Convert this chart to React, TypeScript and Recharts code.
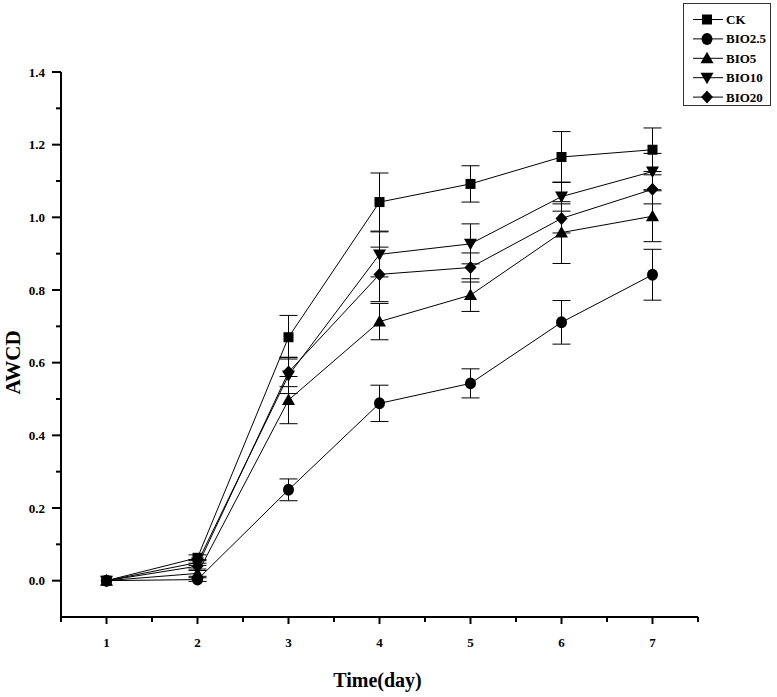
import React from "react";
import { LineChart, Line, XAxis, YAxis, ErrorBar } from "recharts";

// 时间 (day)
const days = [1, 2, 3, 4, 5, 6, 7];

// AWCD values
const ck = [0.0, 0.063, 0.67, 1.042, 1.092, 1.166, 1.186];
const bio25 = [0.0, 0.003, 0.25, 0.488, 0.543, 0.711, 0.842];
const bio5 = [0.0, 0.02, 0.497, 0.713, 0.786, 0.958, 1.003];
const bio10 = [0.0, 0.05, 0.565, 0.898, 0.927, 1.057, 1.126];
const bio20 = [0.0, 0.04, 0.574, 0.843, 0.862, 0.997, 1.077];

// error bars (±)
const ckErr = [0, 0.008, 0.06, 0.08, 0.05, 0.07, 0.06];
const bio25Err = [0, 0.005, 0.03, 0.05, 0.04, 0.06, 0.07];
const bio5Err = [0, 0.008, 0.065, 0.05, 0.045, 0.085, 0.07];
const bio10Err = [0, 0.008, 0.05, 0.062, 0.055, 0.04, 0.05];
const bio20Err = [0, 0.008, 0.04, 0.075, 0.04, 0.04, 0.04];

const seriesNames = ["CK", "BIO2.5", "BIO5", "BIO10", "BIO20"];
const seriesKeys = ["ck", "bio25", "bio5", "bio10", "bio20"];
const seriesShapes = ["square", "circle", "triangle", "down", "diamond"];

const xTicks = [0.5, 1, 1.5, 2, 2.5, 3, 3.5, 4, 4.5, 5, 5.5, 6, 6.5, 7, 7.5];
const yTicks = [0, 0.1, 0.2, 0.3, 0.4, 0.5, 0.6, 0.7, 0.8, 0.9, 1.0, 1.1, 1.2, 1.3, 1.4];

const data = days.map((d, i) => ({
  day: d,
  ck: ck[i],
  ckErr: ckErr[i],
  bio25: bio25[i],
  bio25Err: bio25Err[i],
  bio5: bio5[i],
  bio5Err: bio5Err[i],
  bio10: bio10[i],
  bio10Err: bio10Err[i],
  bio20: bio20[i],
  bio20Err: bio20Err[i],
}));

const FONT = '"Liberation Serif", "DejaVu Serif", serif';

function Marker({ shape, cx, cy }: { shape: string; cx: number; cy: number }) {
  if (cx == null || cy == null) return null;
  switch (shape) {
    case "square":
      return <rect x={cx - 5} y={cy - 5} width={10} height={10} fill="#000" />;
    case "circle":
      return <ellipse cx={cx} cy={cy} rx={5.5} ry={6} fill="#000" />;
    case "triangle":
      return <polygon points={`${cx},${cy - 6.5} ${cx + 6.5},${cy + 5} ${cx - 6.5},${cy + 5}`} fill="#000" />;
    case "down":
      return <polygon points={`${cx - 6.5},${cy - 5} ${cx + 6.5},${cy - 5} ${cx},${cy + 6.5}`} fill="#000" />;
    default:
      return <polygon points={`${cx},${cy - 6.5} ${cx + 6},${cy} ${cx},${cy + 6.5} ${cx - 6},${cy}`} fill="#000" />;
  }
}

const YTick = (props: any) => {
  const { x, y, payload } = props;
  const v = payload.value;
  const major = Math.round(v * 10) % 2 === 0;
  return (
    <g>
      <line x1={x} x2={x - (major ? 9 : 5)} y1={y} y2={y} stroke="#000" strokeWidth={2} />
      {major && (
        <text x={x - 16} y={y + 4.5} textAnchor="end" fontFamily={FONT} fontWeight="bold" fontSize={13} fill="#000">
          {v.toFixed(1)}
        </text>
      )}
    </g>
  );
};

const XTick = (props: any) => {
  const { x, y, payload } = props;
  const v = payload.value;
  const major = Number.isInteger(v);
  return (
    <g>
      <line x1={x} x2={x} y1={y} y2={y + (major ? 7 : 5)} stroke="#000" strokeWidth={2} />
      {major && (
        <text x={x} y={y + 30} textAnchor="middle" fontFamily={FONT} fontWeight="bold" fontSize={13} fill="#000">
          {v}
        </text>
      )}
    </g>
  );
};

function LegendBox() {
  return (
    <div
      style={{
        position: "absolute",
        left: 683,
        top: 3,
        width: 88,
        height: 103,
        border: "1px solid #333",
        boxSizing: "border-box",
        background: "#fff",
      }}
    >
      <svg width={88} height={103}>
        {seriesNames.map((name, i) => {
          const cy = 15.5 + i * 19.4;
          return (
            <g key={name}>
              <line x1={9} x2={39} y1={cy} y2={cy} stroke="#000" strokeWidth={1} />
              <Marker shape={seriesShapes[i]} cx={23} cy={cy} />
              <text x={42} y={cy + 4.5} fontFamily={FONT} fontWeight="bold" fontSize={13} fill="#000">
                {name}
              </text>
            </g>
          );
        })}
      </svg>
    </div>
  );
}

export default function App() {
  return (
    <div style={{ position: "absolute", left: 0, top: 0, width: 777, height: 697, background: "#fff" }}>
      <LineChart width={777} height={697} data={data} margin={{ top: 72, right: 79, bottom: 20, left: 0 }}>
        <XAxis
          dataKey="day"
          type="number"
          domain={[0.5, 7.5]}
          ticks={xTicks}
          interval={0}
          height={60}
          tickSize={0}
          tickMargin={0}
          axisLine={{ stroke: "#000", strokeWidth: 2 }}
          tickLine={false}
          tick={<XTick />}
          label={{
            content: (p: any) => {
              const vb = p.viewBox;
              return (
                <text
                  x={vb.x + vb.width / 2 - 2}
                  y={vb.y + 70}
                  textAnchor="middle"
                  fontFamily={FONT}
                  fontWeight="bold"
                  fontSize={20}
                  fill="#000"
                >
                  Time(day)
                </text>
              );
            },
          }}
        />
        <YAxis
          type="number"
          domain={[-0.1, 1.4]}
          ticks={yTicks}
          interval={0}
          width={61}
          tickSize={0}
          tickMargin={0}
          axisLine={{ stroke: "#000", strokeWidth: 2 }}
          tickLine={false}
          tick={<YTick />}
          label={{
            content: (p: any) => {
              const vb = p.viewBox;
              const cx = vb.x + 20;
              const cy = vb.y + vb.height / 2 + 18;
              return (
                <text
                  x={cx}
                  y={cy}
                  transform={`rotate(-90, ${cx}, ${cy})`}
                  textAnchor="middle"
                  fontFamily={FONT}
                  fontWeight="bold"
                  fontSize={21}
                  fill="#000"
                >
                  AWCD
                </text>
              );
            },
          }}
        />
        {seriesKeys.map((k, i) => (
          <Line
            key={k}
            dataKey={k}
            name={seriesNames[i]}
            type="linear"
            stroke="#000"
            strokeWidth={1}
            isAnimationActive={false}
            activeDot={false}
            dot={(p: any) => <Marker key={`${k}-${p.index}`} shape={seriesShapes[i]} cx={p.cx} cy={p.cy} />}
          >
            <ErrorBar dataKey={`${k}Err`} direction="y" width={9} stroke="#000" strokeWidth={1} isAnimationActive={false} />
          </Line>
        ))}
      </LineChart>
      <LegendBox />
    </div>
  );
}
